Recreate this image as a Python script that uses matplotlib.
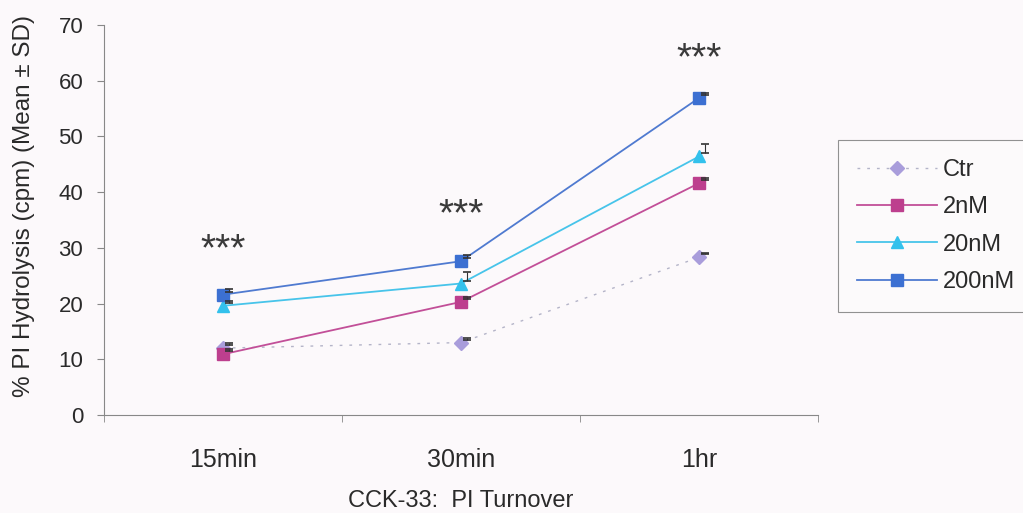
import matplotlib
matplotlib.use("Agg")
import matplotlib.pyplot as plt
import matplotlib.transforms as mtransforms
import numpy as np

plt.rcParams.update({
    "font.family": ["Liberation Sans", "DejaVu Sans"],
    "font.size": 16,
})

# ── data ─────────────────────────────────────────────────────────────────────
times = ["15min", "30min", "1hr"]
ctr = [12.0, 13.0, 28.3]
nm2 = [10.9, 20.3, 41.6]
nm20 = [19.6, 23.6, 46.4]
nm200 = [21.6, 27.6, 56.9]
sd_ctr = [0.3, 0.3, 0.3]
sd_2 = [0.4, 0.4, 0.4]
sd_20 = [0.3, 1.6, 1.7]
sd_200 = [0.4, 0.5, 0.4]
star_y = [31.0, 37.3, 65.2]
star_text = ["***", "***", "***"]

series = [
    ("Ctr", ctr, sd_ctr, "#a99ddb", "#b4b4c8", "D", (0, (2, 5)), 7, 1.0),
    ("2nM", nm2, sd_2, "#bd3f8e", "#c24f98", "s", "-", 8, 1.3),
    ("20nM", nm20, sd_20, "#33c1ec", "#47c4ea", "^", "-", 9, 1.3),
    ("200nM", nm200, sd_200, "#3c70d2", "#4f7ad0", "s", "-", 8, 1.3),
]

# ── plotting ────────────────────────────────────────────────────────────────
fig = plt.figure(figsize=(10.23, 5.13), dpi=100)
fig.patch.set_facecolor("#fcf9fb")
ax = fig.add_axes([104 / 1023, 98 / 513, 714 / 1023, 390 / 513])
ax.set_facecolor("none")

x = np.arange(len(times))
shift = mtransforms.ScaledTranslation(6 / 100, 3 / 100, fig.dpi_scale_trans)
handles = []
for label, vals, sd, mcol, lcol, marker, ls, ms, lw in series:
    h, = ax.plot(x, vals, color=lcol, linestyle=ls, linewidth=lw,
                 marker=marker, markersize=ms, markerfacecolor=mcol,
                 markeredgecolor=mcol, label=label, zorder=3)
    handles.append(h)
    # SD caps, drawn just off the marker as in the original
    eb = ax.errorbar(x, vals, yerr=[np.zeros(len(sd)), sd], fmt="none",
                     ecolor="#333333", elinewidth=0.8, capsize=3, capthick=1.2,
                     zorder=4)
    for art in eb.lines[1] + eb.lines[2]:
        art.set_transform(art.get_transform() + shift)

for xi, yi, t in zip(x, star_y, star_text):
    ax.annotate(t, (xi, yi), xytext=(0, -13), textcoords="offset points",
                ha="center", va="baseline", fontsize=28, color="#3a3a3a")

ax.set_xlim(-0.5, 2.5)
ax.set_ylim(0, 70)
ax.set_yticks(np.arange(0, 71, 10))
ax.set_xticks(x)
ax.set_xticklabels(times, fontsize=18)
ax.set_xticks([-0.5, 0.5, 1.5, 2.5], minor=True)
ax.tick_params(axis="x", which="major", length=0, pad=24)
ax.tick_params(axis="x", which="minor", length=5, color="#888888", direction="out")
ax.tick_params(axis="y", length=5, color="#888888", direction="out", pad=10,
               labelsize=16, labelcolor="#2a2a2a")
ax.tick_params(axis="x", labelcolor="#2a2a2a")

for side in ["top", "right"]:
    ax.spines[side].set_visible(False)
for side in ["left", "bottom"]:
    ax.spines[side].set_color("#888888")
    ax.spines[side].set_linewidth(0.8)

ax.set_ylabel("% PI Hydrolysis (cpm) (Mean \u00b1 SD)", fontsize=17.5, color="#2a2a2a")
ax.yaxis.set_label_coords(-0.112, 0.535)
ax.yaxis.label.set_va("center")
ax.set_xlabel("CCK-33:  PI Turnover", fontsize=17, color="#2a2a2a")
ax.xaxis.set_label_coords(0.5, -0.221)
ax.xaxis.label.set_va("center")

leg = fig.legend(handles=handles, loc="upper left",
                 bbox_to_anchor=(838 / 1023, 1 - 140 / 513),
                 frameon=True, fancybox=False, fontsize=17,
                 handlelength=3.4, labelspacing=0.65, borderpad=0.8,
                 handletextpad=0.25, borderaxespad=0)
leg.get_frame().set_edgecolor("#777777")
leg.get_frame().set_facecolor("#fdfbfc")
leg.get_frame().set_linewidth(0.8)
for t in leg.get_texts():
    t.set_color("#2a2a2a")

fig.savefig("out.png", dpi=100, facecolor=fig.get_facecolor())
